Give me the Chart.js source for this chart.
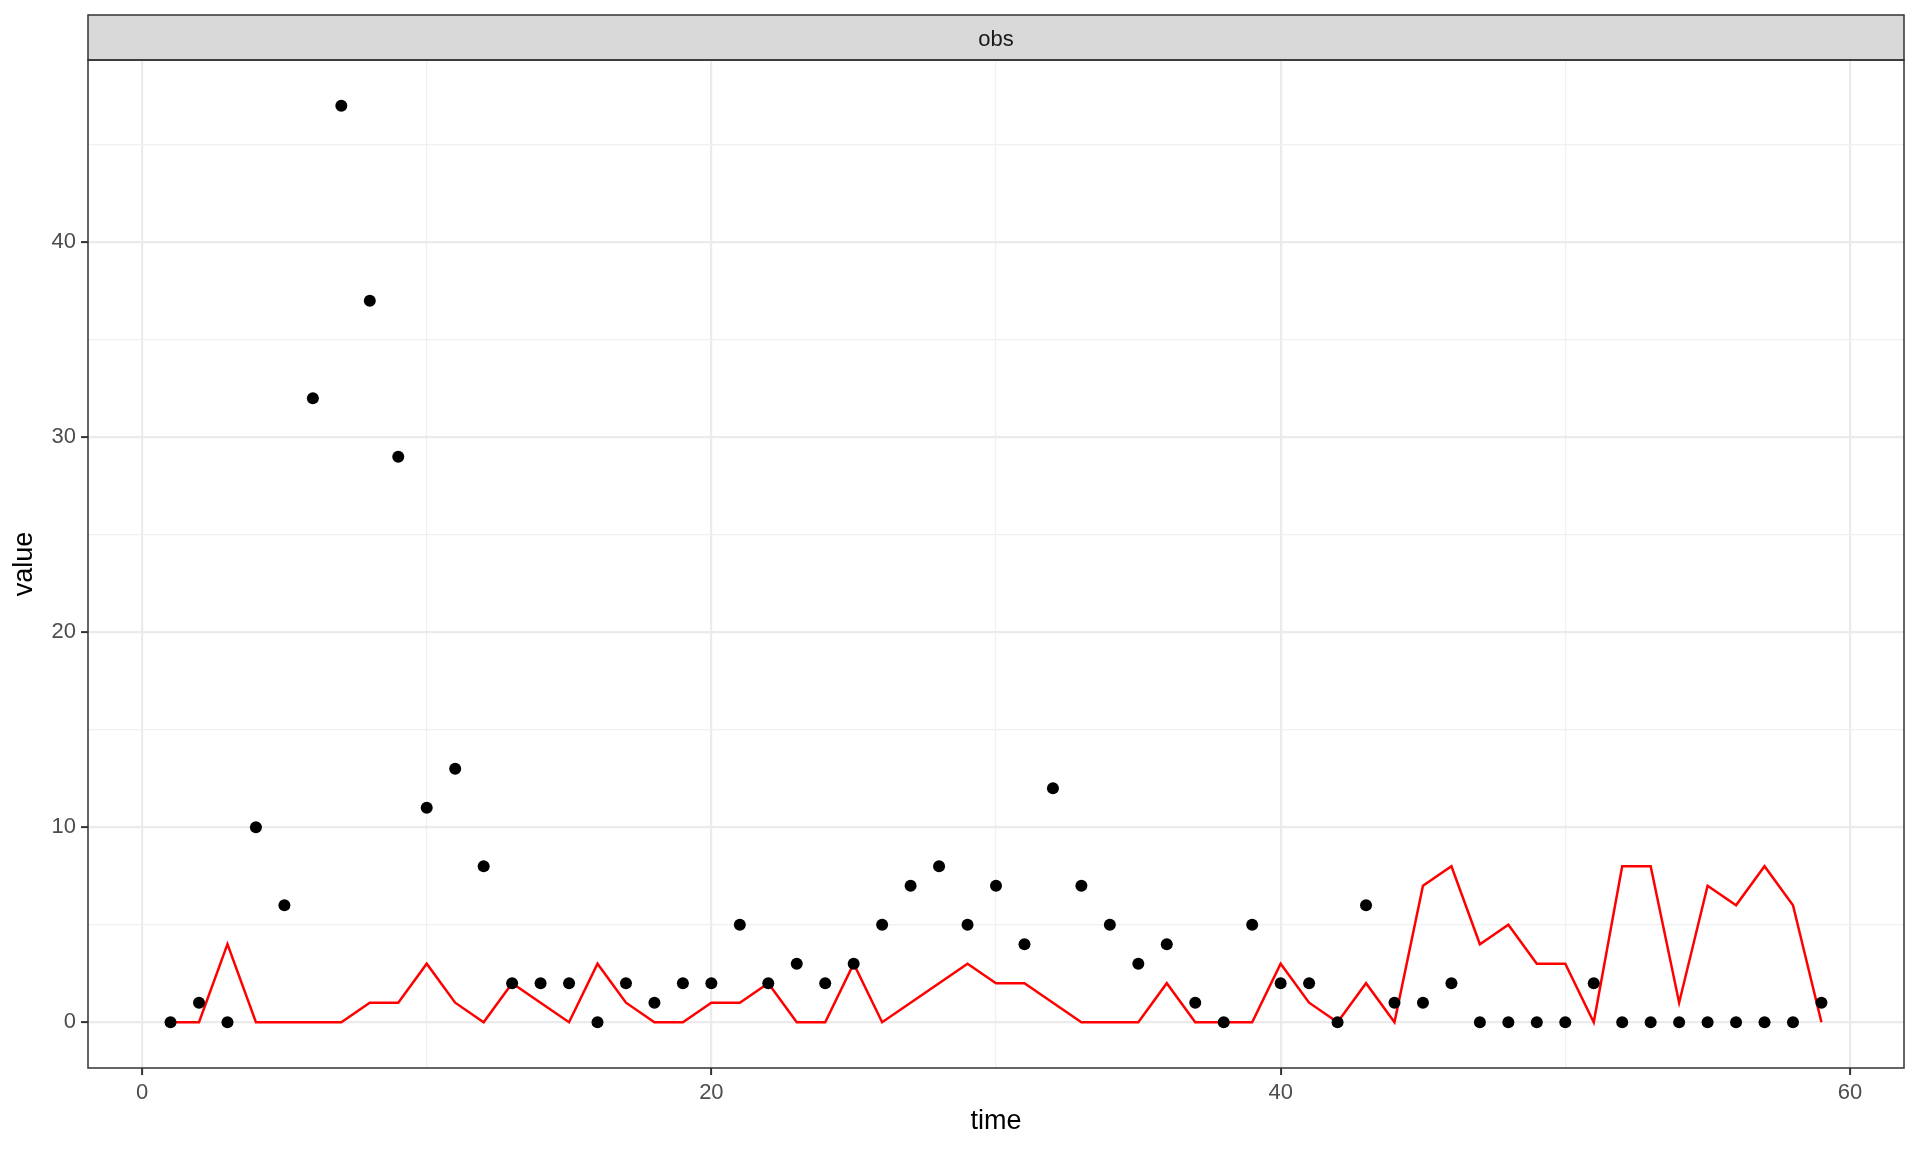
<!DOCTYPE html>
<html>
<head>
<meta charset="utf-8">
<script src="https://cdn.jsdelivr.net/npm/chart.js@4/dist/chart.umd.min.js"></script>
<style>
  html, body { margin: 0; padding: 0; background: #fff; }
  #wrap { width: 1920px; height: 1152px; }
</style>
</head>
<body>
<div id="wrap"><canvas id="chart" width="1920" height="1152"></canvas></div>
<script>
const stripLabel = "obs";
const times = [
  1, 2, 3, 4, 5, 6, 7, 8, 9, 10, 11, 12, 13, 14, 15, 16, 17, 18, 19, 20,
  21, 22, 23, 24, 25, 26, 27, 28, 29, 30, 31, 32, 33, 34, 35, 36, 37, 38, 39, 40,
  41, 42, 43, 44, 45, 46, 47, 48, 49, 50, 51, 52, 53, 54, 55, 56, 57, 58, 59,
];
const observed = [
  0, 1, 0, 10, 6, 32, 47, 37, 29, 11, 13, 8, 2, 2, 2, 0, 2, 1, 2, 2,
  5, 2, 3, 2, 3, 5, 7, 8, 5, 7, 4, 12, 7, 5, 3, 4, 1, 0, 5, 2,
  2, 0, 6, 1, 1, 2, 0, 0, 0, 0, 2, 0, 0, 0, 0, 0, 0, 0, 1,
];
const fitted = [
  0, 0, 4, 0, 0, 0, 0, 1, 1, 3, 1, 0, 2, 1, 0, 3, 1, 0, 0, 1,
  1, 2, 0, 0, 3, 0, 1, 2, 3, 2, 2, 1, 0, 0, 0, 2, 0, 0, 0, 3,
  1, 0, 2, 0, 7, 8, 4, 5, 3, 3, 0, 8, 8, 1, 7, 6, 8, 6, 0,
];
const xTicks = [0, 20, 40, 60];
const xMinor = [10, 30, 50];
const yTicks = [0, 10, 20, 30, 40];
const yMinor = [5, 15, 25, 35, 45];

const FONT = "'Liberation Sans', Arial, sans-serif";

// ggplot default 5% expansion of the data range
function expand(values) {
  const lo = Math.min(...values);
  const hi = Math.max(...values);
  const pad = (hi - lo) * 0.05;
  return { min: lo - pad, max: hi + pad };
}
const xRange = expand(times);
const yRange = expand(observed.concat(fitted));

function tickSet(major, minor) {
  return major.concat(minor).sort((a, b) => a - b).map((value) => ({ value }));
}

function gridScale(major, minor, range) {
  return {
    type: "linear",
    min: range.min,
    max: range.max,
    afterBuildTicks: (scale) => { scale.ticks = tickSet(major, minor); },
    border: { display: false },
    grid: {
      drawTicks: true,
      tickLength: 7,
      color: (ctx) => major.includes(ctx.tick?.value) ? "#EBEBEB" : "#F0F0F0",
      lineWidth: (ctx) => major.includes(ctx.tick?.value) ? 2.2 : 1.2,
      tickColor: (ctx) => major.includes(ctx.tick?.value) ? "#333333" : "rgba(0,0,0,0)",
      tickWidth: 2,
    },
    ticks: {
      autoSkip: false,
      maxRotation: 0,
      padding: 5,
      color: "#4D4D4D",
      font: { family: FONT, size: 22 },
      callback: (value) => major.includes(value) ? String(value) : "",
    },
  };
}

const panelDecor = {
  id: "panelDecor",
  afterDraw(chart) {
    const { ctx, chartArea: a } = chart;
    ctx.save();
    // strip
    ctx.fillStyle = "#D9D9D9";
    ctx.fillRect(a.left, 15, a.right - a.left, a.top - 15);
    ctx.strokeStyle = "#333333";
    ctx.lineWidth = 1.5;
    ctx.strokeRect(a.left, 15, a.right - a.left, a.top - 15);
    ctx.fillStyle = "#1A1A1A";
    ctx.font = `22px ${FONT}`;
    ctx.textAlign = "center";
    ctx.textBaseline = "middle";
    ctx.fillText(stripLabel, (a.left + a.right) / 2, (15 + a.top) / 2 + 2);
    // panel border
    ctx.strokeRect(a.left, a.top, a.right - a.left, a.bottom - a.top);
    ctx.restore();
  },
};

new Chart(document.getElementById("chart"), {
  type: "scatter",
  data: {
    datasets: [
      {
        label: "obs",
        data: times.map((t, i) => ({ x: t, y: observed[i] })),
        backgroundColor: "#000000",
        borderColor: "#000000",
        pointRadius: 6,
        pointBorderWidth: 0,
        order: 1,
      },
      {
        label: "fitted",
        type: "line",
        data: times.map((t, i) => ({ x: t, y: fitted[i] })),
        borderColor: "#FF0000",
        borderWidth: 2.5,
        pointRadius: 0,
        fill: false,
        tension: 0,
        order: 2,
      },
    ],
  },
  options: {
    responsive: false,
    animation: false,
    layout: { padding: { top: 60, right: 16, left: 0, bottom: 0 } },
    plugins: { legend: { display: false }, tooltip: { enabled: false } },
    scales: {
      x: {
        ...gridScale(xTicks, xMinor, xRange),
        afterFit: (scale) => { scale.height = 84; },
        title: {
          display: true,
          text: "time",
          color: "#000000",
          font: { family: FONT, size: 27 },
          padding: { top: 0, bottom: 14 },
        },
      },
      y: {
        ...gridScale(yTicks, yMinor, yRange),
        afterFit: (scale) => { scale.width = 88; },
        title: {
          display: true,
          text: "value",
          color: "#000000",
          font: { family: FONT, size: 27 },
          padding: { top: 8, bottom: 0 },
        },
      },
    },
  },
  plugins: [panelDecor],
});
</script>
</body>
</html>
